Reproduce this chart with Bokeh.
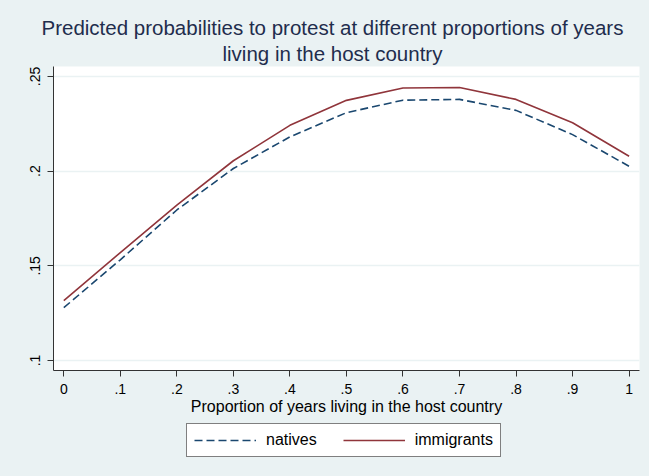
from bokeh.plotting import figure
from bokeh.layouts import column
from bokeh.models import Range1d, FixedTicker, Legend, LegendItem, Title, ColumnDataSource
from bokeh.embed import file_html
from bokeh.resources import INLINE

# ---- data ----
x_vals = [0, 0.1, 0.2, 0.3, 0.4, 0.5, 0.6, 0.7, 0.8, 0.9, 1]
natives = [0.1279, 0.1532, 0.1795, 0.2014, 0.2181, 0.2309, 0.2375, 0.2379, 0.2321, 0.2193, 0.2026]
immigrants = [0.1316, 0.1570, 0.1821, 0.2055, 0.2242, 0.2374, 0.2439, 0.2442, 0.2379, 0.2256, 0.2079]
x_ticks = [0, 0.1, 0.2, 0.3, 0.4, 0.5, 0.6, 0.7, 0.8, 0.9, 1]
x_tick_labels = ["0", ".1", ".2", ".3", ".4", ".5", ".6", ".7", ".8", ".9", "1"]
y_ticks = [0.1, 0.15, 0.2, 0.25]
y_tick_labels = [".1", ".15", ".2", ".25"]
title_lines = ["Predicted probabilities to protest at different proportions of years",
               "living in the host country"]
x_title = "Proportion of years living in the host country"
series_names = ["natives", "immigrants"]

BG = "#EAF2F3"
FONT = "Liberation Sans"
BLUE = "#1A476F"
RED = "#90353B"
DASH = "8 4"

src = ColumnDataSource(dict(x=x_vals, natives=natives, immigrants=immigrants))

p = figure(width=649, height=420, output_backend="svg", toolbar_location=None,
           title=None,
           x_range=Range1d(-0.0182, 1.0184), y_range=Range1d(0.09472, 0.25528),
           min_border_left=53, min_border_right=10, min_border_top=66, min_border_bottom=50)
p.border_fill_color = BG
p.background_fill_color = "white"
p.outline_line_color = None

r1 = p.line("x", "natives", source=src, line_color=BLUE, line_width=1.6, line_dash=DASH)
r2 = p.line("x", "immigrants", source=src, line_color=RED, line_width=1.6)

# axes
p.xaxis.ticker = FixedTicker(ticks=x_ticks)
p.xaxis.major_label_overrides = dict(zip(x_ticks, x_tick_labels))
p.yaxis.ticker = FixedTicker(ticks=y_ticks)
p.yaxis.major_label_overrides = dict(zip(y_ticks, y_tick_labels))
p.yaxis.major_label_orientation = "vertical"

for ax in (p.xaxis, p.yaxis):
    ax.axis_line_color = "#333333"
    ax.major_tick_line_color = "#333333"
    ax.major_tick_out = 6
    ax.major_tick_in = 0
    ax.minor_tick_out = 0
    ax.minor_tick_in = 0
    ax.major_label_text_font = FONT
    ax.major_label_text_font_size = "14px"
    ax.major_label_text_color = "black"

p.xaxis.major_label_standoff = 7
p.yaxis.major_label_standoff = 7
p.xaxis.axis_label = x_title
p.xaxis.axis_label_text_font = FONT
p.xaxis.axis_label_text_font_style = "normal"
p.xaxis.axis_label_text_font_size = "16px"
p.xaxis.axis_label_text_color = "black"
p.xaxis.axis_label_standoff = 1

p.xgrid.grid_line_color = None
p.ygrid.grid_line_color = BG
p.ygrid.grid_line_width = 1.5
p.ygrid.ticker = FixedTicker(ticks=y_ticks)

# title: two lines, left aligned with offsets so that both are centred at the same x
title_offsets = [-12, 169]
title_standoffs = [-2, 4]
for txt, off, so in reversed(list(zip(title_lines, title_offsets, title_standoffs))):
    p.add_layout(Title(text=txt, align="left", offset=off, standoff=so,
                       text_font=FONT, text_font_size="20.5px", text_font_style="normal",
                       text_color="#1F2D4D"), "above")

# legend strip below the chart (same series, drawn outside the strip's visible range)
p2 = figure(width=649, height=56, output_backend="svg", toolbar_location=None,
            x_range=Range1d(0, 1), y_range=Range1d(5, 6),
            min_border_left=0, min_border_right=0, min_border_top=0, min_border_bottom=0)
p2.axis.visible = False
p2.grid.visible = False
p2.border_fill_color = BG
p2.background_fill_color = BG
p2.outline_line_color = None
k1 = p2.line("x", "natives", source=src, line_color=BLUE, line_width=1.6, line_dash=DASH)
k2 = p2.line("x", "immigrants", source=src, line_color=RED, line_width=1.6)

legend = Legend(items=[LegendItem(label=series_names[0], renderers=[k1]),
                       LegendItem(label=series_names[1], renderers=[k2])],
                orientation="horizontal", location=(133, 19),
                border_line_color="black", border_line_width=1,
                background_fill_color="white", background_fill_alpha=1,
                glyph_width=62, glyph_height=18, label_height=18,
                label_standoff=10, spacing=26, padding=7, margin=0,
                label_text_font=FONT, label_text_font_size="16px",
                label_text_color="black")
p2.add_layout(legend, "center")

layout = column(p, p2, spacing=0, styles={"background-color": BG})
open("out.html", "w").write(file_html(layout, INLINE))
